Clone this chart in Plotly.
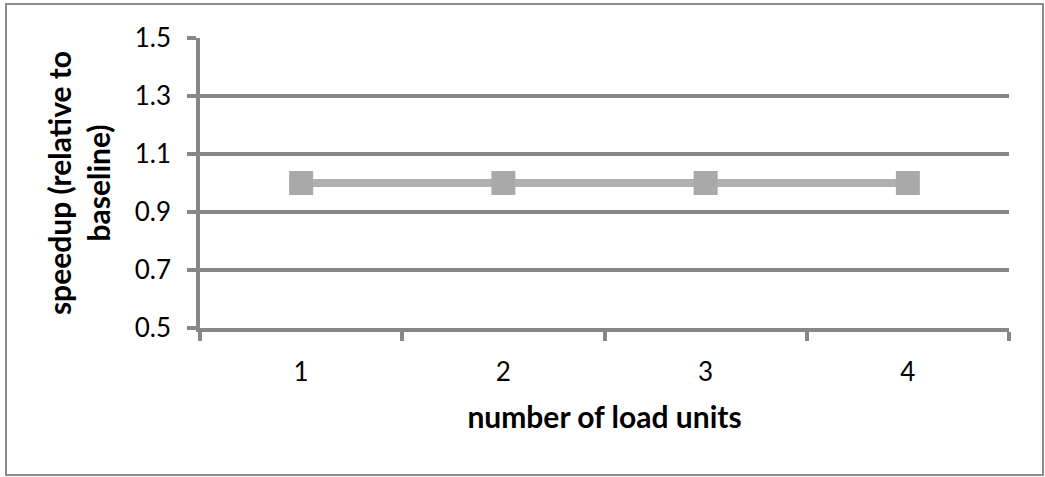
import plotly.graph_objects as go

# speedup of each load-unit configuration relative to the baseline
load_units = ["1", "2", "3", "4"]
speedup = [1.0, 1.0, 1.0, 1.0]
y_ticks = [0.5, 0.7, 0.9, 1.1, 1.3, 1.5]

GRID = "#878787"
LINE = "#b0b0b0"
MARKER = "#a9a9a9"
FONT = "Lato, Carlito, Calibri, sans-serif"
TICK_FS = 26
TITLE_FS = 30

fig = go.Figure()
fig.add_trace(go.Scatter(
    x=load_units, y=speedup, mode="lines+markers",
    line=dict(color=LINE, width=8),
    marker=dict(symbol="square", size=24, color=MARKER),
    showlegend=False, hoverinfo="skip",
))

fig.update_layout(
    width=1045, height=477,
    margin=dict(l=200, r=36, t=38, b=149),
    paper_bgcolor="white", plot_bgcolor="white",
    font=dict(family=FONT, size=TICK_FS, color="black"),
    xaxis=dict(
        type="category", range=[-0.5, 3.5], tickson="boundaries",
        showgrid=False, showline=True, linecolor=GRID, linewidth=3.5,
        ticks="outside", ticklen=9, tickwidth=3.5, tickcolor=GRID,
        tickfont=dict(size=TICK_FS), ticklabelstandoff=18,
        title=dict(text="<b>number of load units</b>", font=dict(size=TITLE_FS), standoff=22),
    ),
    yaxis=dict(
        range=[0.5, 1.5], tickvals=y_ticks, ticktext=[f"{v:.1f}" for v in y_ticks],
        showgrid=True, gridcolor=GRID, gridwidth=3.5, zeroline=False,
        showline=True, linecolor=GRID, linewidth=3.5,
        ticks="outside", ticklen=9, tickwidth=3.5, tickcolor=GRID,
        tickfont=dict(size=TICK_FS), ticklabelstandoff=11,
        title=dict(text="<b>speedup (relative to<br>baseline)</b>", font=dict(size=TITLE_FS), standoff=16),
    ),
    shapes=[dict(type="rect", xref="paper", yref="paper",
                 x0=-194/809, x1=1043/809 - 200/809, y0=-147/290, y1=1 + 34/290,
                 line=dict(color="#8c8c8c", width=2), layer="below")],
)

fig.write_html("out.html")
